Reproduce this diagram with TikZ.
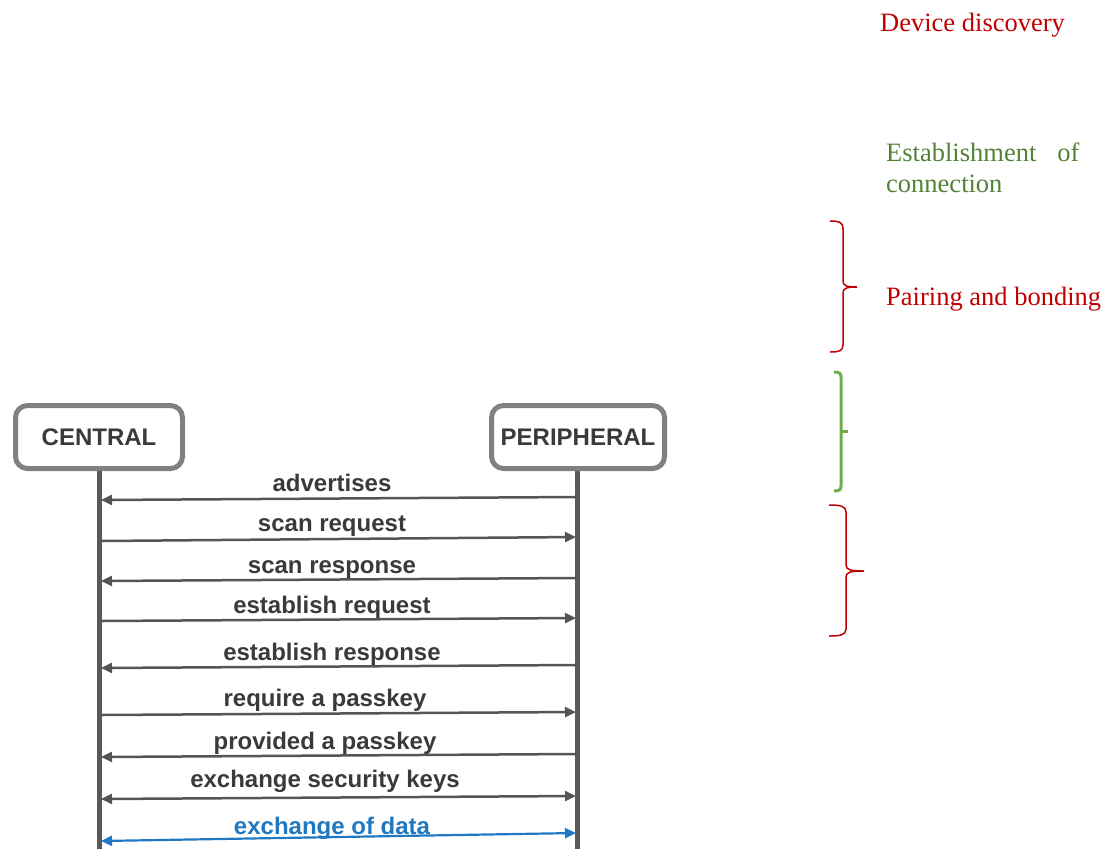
\documentclass[tikz,border=0pt]{standalone}
\usepackage{fontspec}
\setmainfont{Liberation Serif}
\setsansfont{Liberation Sans}
\usetikzlibrary{arrows.meta}
\definecolor{lifegray}{HTML}{595959}
\definecolor{boxgray}{HTML}{808080}
\definecolor{msggray}{HTML}{555555}
\definecolor{txtgray}{HTML}{3A3A3A}
\definecolor{datablue}{HTML}{1F78C1}
\definecolor{phasered}{HTML}{C00000}
\definecolor{phasegreen}{HTML}{548235}
\definecolor{bracegreen}{HTML}{70AD47}
\begin{document}
\begin{tikzpicture}[x=1pt,y=-1pt,
  actor/.style={draw=boxgray, line width=5pt, rounded corners=12pt, fill=white,
    minimum height=63pt, inner sep=0pt, text=txtgray,
    font=\sffamily\bfseries\fontsize{24}{28}\selectfont},
  lifeline/.style={draw=lifegray, line width=5pt},
  tip/.style={Triangle[length=11pt,width=10pt]},
  msg/.style={draw=msggray, line width=2.5pt, -{Triangle[length=11pt,width=10pt]}},
  bimsg/.style={draw=msggray, line width=2.5pt, {Triangle[length=11pt,width=10pt]}-{Triangle[length=11pt,width=10pt]}},
  datamsg/.style={draw=datablue, line width=2.2pt, {Triangle[length=11pt,width=10pt]}-{Triangle[length=11pt,width=10pt]}},
  msglabel/.style={anchor=base, inner sep=0pt, text=txtgray,
    font=\sffamily\bfseries\fontsize{24}{28}\selectfont},
  phase/.style={anchor=base west, inner sep=0pt,
    font=\rmfamily\fontsize{26.5}{31}\selectfont},
  bracered/.style={draw=phasered, line width=1.5pt},
  bracegrn/.style={draw=bracegreen, line width=3pt}
]
\useasboundingbox (0,0) rectangle (1113,849);

% actors
\node[actor, minimum width=167pt] (central) at (99,437) {CENTRAL};
\node[actor, minimum width=173pt] (peripheral) at (578,437) {PERIPHERAL};

% lifelines
\coordinate (cbot) at (99.5,849);
\coordinate (pbot) at (577.5,849);
\draw[lifeline] (central.south -| cbot) -- (cbot);
\draw[lifeline] (peripheral.south -| pbot) -- (pbot);

% message end points on the lifelines
\coordinate (p1) at (576,497); \coordinate (c1) at (101,500);
\coordinate (c2) at (101,541); \coordinate (p2) at (576,537);
\coordinate (p3) at (576,578); \coordinate (c3) at (101,581);
\coordinate (c4) at (101,621); \coordinate (p4) at (576,618);
\coordinate (p5) at (576,665); \coordinate (c5) at (101,668);
\coordinate (c6) at (101,715); \coordinate (p6) at (576,712);
\coordinate (p7) at (576,754); \coordinate (c7) at (101,757);
\coordinate (c8) at (101,799); \coordinate (p8) at (576,796);
\coordinate (c9) at (101,841); \coordinate (p9) at (576,833);

% messages
\draw[msg] (p1) -- (c1);
\draw[msg] (c2) -- (p2);
\draw[msg] (p3) -- (c3);
\draw[msg] (c4) -- (p4);
\draw[msg] (p5) -- (c5);
\draw[msg] (c6) -- (p6);
\draw[msg] (p7) -- (c7);
\draw[bimsg] (c8) -- (p8);
\draw[datamsg] (c9) -- (p9);

% message labels
\node[msglabel] (l1) at (332,491) {advertises};
\node[msglabel] (l2) at (332,531) {scan request};
\node[msglabel] (l3) at (332,573) {scan response};
\node[msglabel] (l4) at (332,613) {establish request};
\node[msglabel] (l5) at (332,660) {establish response};
\node[msglabel] (l6) at (325,706) {require a passkey};
\node[msglabel] (l7) at (325,749) {provided a passkey};
\node[msglabel] (l8) at (325,787) {exchange security keys};
\node[msglabel, text=datablue] (l9) at (332,834) {exchange of data};

% phase names
\node[phase, text=phasered] (disc) at (880,31) {Device discovery};
\node[phase, text=phasegreen] (est1) at (886,161) {Establishment\hspace{21pt}of};
\node[phase, text=phasegreen] (est2) at (886,192) {connection};
\node[phase, text=phasered] (pair) at (886,305) {Pairing and bonding};

% braces
\draw[bracered] (830,221) .. controls (839,221) and (843,222) .. (843,229)
  -- (843,281) .. controls (843,286) and (847,287) .. (857,287)
  .. controls (847,287) and (843,288) .. (843,293)
  -- (843,345) .. controls (843,351) and (839,352) .. (830,352);
\draw[bracegrn] (834,372) .. controls (839,372) and (841,373) .. (841,377)
  -- (841,486) .. controls (841,490) and (839,491) .. (834,491);
\draw[bracegrn] (841,431) -- (848,431);
\draw[bracered] (829,505) .. controls (840,505) and (846,506) .. (846,512)
  -- (846,565) .. controls (846,570) and (851,571) .. (864,571)
  .. controls (851,571) and (846,572) .. (846,577)
  -- (846,629) .. controls (846,635) and (840,636) .. (829,636);
\end{tikzpicture}
\end{document}
